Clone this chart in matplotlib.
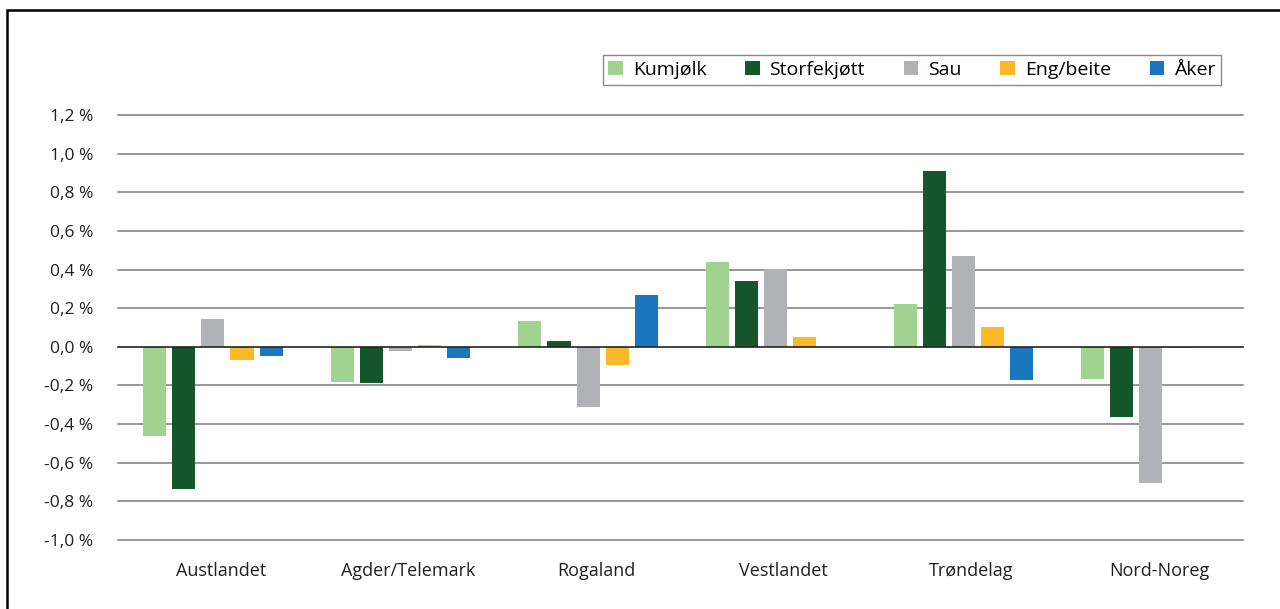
import numpy as np
import matplotlib
matplotlib.use("Agg")
import matplotlib.pyplot as plt
from matplotlib.patches import Rectangle

### data (percent)
regions = ["Austlandet", "Agder/Telemark", "Rogaland", "Vestlandet", "Trøndelag", "Nord-Noreg"]
series = ["Kumjølk", "Storfekjøtt", "Sau", "Eng/beite", "Åker"]
kumjolk = [-0.46, -0.18, 0.135, 0.44, 0.22, -0.165]
storfekjott = [-0.735, -0.185, 0.032, 0.342, 0.908, -0.365]
sau = [0.146, -0.02, -0.31, 0.403, 0.468, -0.703]
eng_beite = [-0.066, 0.012, -0.092, 0.053, 0.105, -0.007]
aker = [-0.046, -0.06, 0.27, 0.0, -0.173, 0.0]
yticks = [1.2, 1.0, 0.8, 0.6, 0.4, 0.2, 0.0, -0.2, -0.4, -0.6, -0.8, -1.0]

colors = ["#a0d290", "#15562d", "#b1b2b5", "#fdb827", "#1a76bd"]
values = [kumjolk, storfekjott, sau, eng_beite, aker]

plt.rcParams["font.family"] = ["Open Sans", "DejaVu Sans"]

fig = plt.figure(figsize=(12.8, 6.09), dpi=100)
ax = fig.add_axes([118 / 1280, (609 - 540) / 609, (1243 - 118) / 1280, (540 - 115) / 609])

x = np.arange(len(regions))
step = 0.155
width = 0.123
shift = -0.043
handles = []
for i, (name, vals, col) in enumerate(zip(series, values, colors)):
    b = ax.bar(x + shift + (i - 2) * step, vals, width, color=col, label=name, zorder=3)
    handles.append(b)

ax.set_xlim(-0.549, 5.448)
ax.set_ylim(-1.0, 1.2)
ax.set_yticks(yticks)
ax.set_yticklabels([f"{v:.1f} %".replace(".", ",") for v in yticks], fontsize=12.5, color="#231f20")
ax.set_xticks(x)
ax.set_xticklabels(regions, fontsize=13, color="#231f20")
ax.tick_params(axis="y", length=0, pad=18)
ax.tick_params(axis="x", length=0, pad=16)
for s in ax.spines.values():
    s.set_visible(False)
for v in yticks:
    ax.axhline(v, color="#222222" if v == 0 else "#7a7a7a", lw=1.2 if v == 0 else 1.1,
               zorder=2 if v != 0 else 4, clip_on=False)

leg = fig.legend(handles=handles, loc="center", bbox_to_anchor=(912 / 1280, 1 - 70 / 609),
                 ncol=5, fontsize=14, frameon=True, fancybox=False, edgecolor="#6d6d6d",
                 handlelength=0.75, handleheight=0.75, handletextpad=0.5, columnspacing=2.0,
                 borderpad=0.3)
leg.get_frame().set_linewidth(1.0)

fig.patches.append(Rectangle((7 / 1280, -0.01), 1.0, 1 - 10 / 609 + 0.01, transform=fig.transFigure,
                             fill=False, edgecolor="black", lw=1.8))

fig.savefig("out.png", dpi=100)
